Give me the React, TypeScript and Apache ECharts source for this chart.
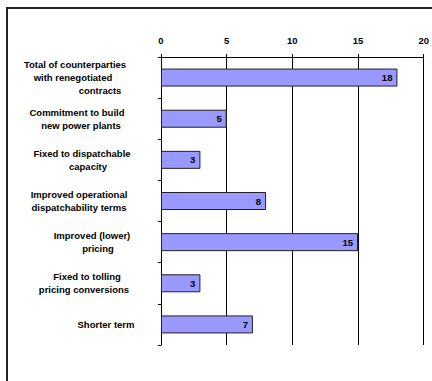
import React, { useEffect, useRef } from "react";
import * as echarts from "echarts";

const categories = [
  "Total of counterparties\nwith renegotiated\ncontracts",
  "Commitment to build\nnew power plants",
  "Fixed to dispatchable\ncapacity",
  "Improved operational\ndispatchability terms",
  "Improved (lower)\npricing",
  "Fixed to tolling\npricing conversions",
  "Shorter term",
];
const values = [18, 5, 3, 8, 15, 3, 7];
const xTicks = [0, 5, 10, 15, 20];

// per-line horizontal shifts (px) of the category labels, relative to the label anchor
const lineShifts: number[][] = [
  [-5, -7, 20],
  [-3, 1],
  [2, 8],
  [-1, -1],
  [12, 18],
  [7, 4],
  [26],
];

const FONT = "'Liberation Sans', Arial, sans-serif";
const FS = 9.5;

export default function App() {
  const ref = useRef<HTMLDivElement>(null);
  useEffect(() => {
    document.body.style.margin = "0";
    const chart = echarts.init(ref.current!, null, { renderer: "svg" });
    const rich: Record<string, any> = {};
    const keyOf = (s: number) => "s" + (s < 0 ? "m" + -s : "p" + s);
    lineShifts.forEach((ls) =>
      ls.forEach((s) => {
        rich[keyOf(s)] = {
          fontFamily: FONT,
          fontWeight: "bold",
          fontSize: FS,
          color: "#000",
          lineHeight: 13,
          padding: s >= 0 ? [0, 0, 0, 2 * s] : [0, -2 * s, 0, 0],
        };
      })
    );
    chart.setOption({
      animation: false,
      backgroundColor: "#fff",
      grid: { left: 161, top: 57, right: 7, bottom: 36, containLabel: false },
      graphic: [
        {
          type: "rect",
          shape: { x: 7, y: 8, width: 600, height: 600 },
          style: { fill: "none", stroke: "#222", lineWidth: 2 },
          silent: true,
        },
      ],
      xAxis: {
        type: "value",
        position: "top",
        min: xTicks[0],
        max: xTicks[xTicks.length - 1],
        interval: 5,
        axisLine: { show: true, lineStyle: { color: "#000", width: 1 } },
        axisTick: { show: true, inside: false, length: 3, lineStyle: { color: "#000" } },
        splitLine: { show: true, lineStyle: { color: "#000", width: 1, type: "solid" } },
        axisLabel: {
          margin: 12,
          fontFamily: FONT,
          fontWeight: "bold",
          fontSize: FS,
          color: "#000",
        },
      },
      yAxis: {
        type: "category",
        inverse: true,
        data: categories,
        axisLine: { show: true, lineStyle: { color: "#000", width: 1 } },
        axisTick: { show: true, inside: false, length: 3, lineStyle: { color: "#000" } },
        axisLabel: {
          margin: 81,
          align: "center",
          interval: 0,
          fontFamily: FONT,
          fontWeight: "bold",
          fontSize: FS,
          lineHeight: 13,
          color: "#000",
          formatter: (v: string) => {
            const idx = categories.indexOf(v);
            return v
              .split("\n")
              .map((ln, i) => "{" + keyOf(lineShifts[idx][i]) + "|" + ln + "}")
              .join("\n");
          },
          rich,
        },
      },
      series: [
        {
          type: "bar",
          data: values,
          barWidth: 18,
          itemStyle: { color: "#9999FF", borderColor: "#222", borderWidth: 1 },
          label: {
            show: true,
            position: "insideRight",
            distance: 5,
            fontFamily: FONT,
            fontWeight: "bold",
            fontSize: FS,
            color: "#000",
          },
        },
      ],
    });
    return () => chart.dispose();
  }, []);
  return (
    <div
      ref={ref}
      style={{ position: "fixed", left: 0, top: 0, width: 432, height: 381 }}
    />
  );
}
